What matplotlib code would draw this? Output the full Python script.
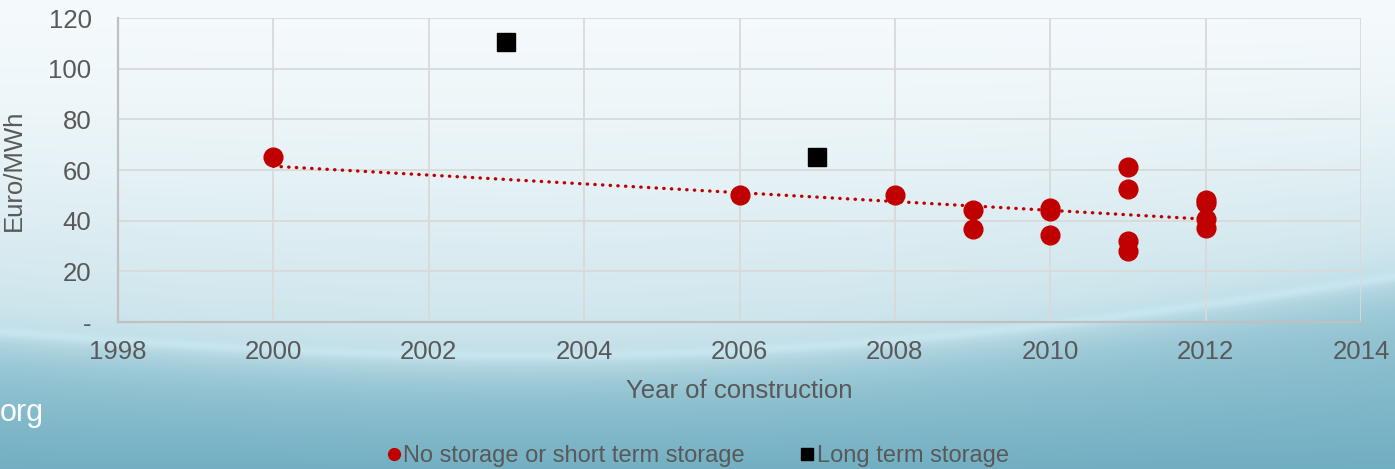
import numpy as np
import matplotlib
matplotlib.use("Agg")
import matplotlib.pyplot as plt
from matplotlib.lines import Line2D

plt.rcParams['font.family'] = ['Liberation Sans', 'DejaVu Sans']

# ---- data ----
short_years = [2000, 2006, 2008, 2009, 2009, 2010, 2010, 2010, 2011, 2011, 2011, 2011, 2012, 2012, 2012, 2012]
short_values = [65, 50, 50, 44.2, 36.7, 45, 44, 34.2, 61.1, 52.5, 32, 28.2, 48.2, 47, 40.5, 37]
long_years = [2003, 2007]
long_values = [110.5, 65.1]
x_ticks = [1998, 2000, 2002, 2004, 2006, 2008, 2010, 2012, 2014]
y_ticks = [0, 20, 40, 60, 80, 100, 120]
y_tick_labels = ['-', '20', '40', '60', '80', '100', '120']

RED = '#c00000'
TXT = '#595959'

W, H = 1395, 469
fig = plt.figure(figsize=(W / 100, H / 100), dpi=100)

# ---- decorative background gradient ----
bg = fig.add_axes([0, 0, 1, 1], zorder=0)
xx, yy = np.meshgrid(np.arange(W), np.arange(H), indexing='xy')
wave = 325 + 60 * np.sin(np.pi * (xx + 100) / 1600) - 0.04 * xx
top_c = np.array([0xf5, 0xfa, 0xfc]) / 255
mid_c = np.array([0xc8, 0xe2, 0xea]) / 255
bot_c = np.array([0x6c, 0xab, 0xbf]) / 255
t_up = np.clip(yy / wave, 0, 1) ** 1.5
img_up = top_c * (1 - t_up[..., None]) + mid_c * t_up[..., None]
t_lo = np.clip((yy - wave) / np.maximum(H + 20 - wave, 1), 0, 1) ** 0.7
low_start = np.array([0xac, 0xd3, 0xde]) / 255
img_lo = low_start * (1 - t_lo[..., None]) + bot_c * t_lo[..., None]
blend = 1 / (1 + np.exp(-(yy - wave) / 10.0))
img = img_up * (1 - blend[..., None]) + img_lo * blend[..., None]
streak = np.exp(-((yy - wave + 5) / 5.0) ** 2) * 0.035
img = np.clip(img + streak[..., None], 0, 1)
bg.imshow(img, aspect='auto', extent=[0, 1, 0, 1], origin='upper')
bg.set_axis_off()

# ---- main axes ----
L, R, T, B = 118, 1361, 18, 322
ax = fig.add_axes([L / W, 1 - B / H, (R - L) / W, (B - T) / H], zorder=1)
ax.patch.set_alpha(0)
ax.set_xlim(1998, 2014)
ax.set_ylim(0, 120)
ax.set_xticks(x_ticks)
ax.set_yticks(y_ticks)
ax.set_yticklabels(y_tick_labels)
ax.grid(True, color='#d9d9d9', linewidth=1.3, zorder=0)
ax.set_axisbelow(True)
for s in ['top', 'right']:
    ax.spines[s].set_visible(False)
for s in ['left', 'bottom']:
    ax.spines[s].set_color('#c0c0c0')
    ax.spines[s].set_linewidth(1.6)
ax.tick_params(length=0, labelsize=18.5, labelcolor=TXT)
ax.tick_params(axis='x', pad=13)
ax.tick_params(axis='y', pad=19)
ax.set_ylabel('Euro/MWh', fontsize=18.5, color=TXT, labelpad=16)
ax.set_xlabel('Year of construction', fontsize=18.5, color=TXT, labelpad=11)

# trendline (linear fit of the red series)
coef = np.polyfit(short_years, short_values, 1)
tx = np.array([min(short_years), max(short_years)])
ax.plot(tx, np.polyval(coef, tx), color=RED, linewidth=2.4,
        linestyle=(0, (0.1, 2.2)), dash_capstyle='round', zorder=3)

ax.plot(short_years, short_values, 'o', color=RED, markersize=13.5, zorder=4, clip_on=False)
ax.plot(long_years, long_values, 's', color='black', markersize=12.5, zorder=4, clip_on=False)

# legend
handles = [Line2D([], [], marker='o', color=RED, linestyle='none', markersize=8.5),
           Line2D([], [], marker='s', color='black', linestyle='none', markersize=8.5)]
leg = fig.legend(handles, ['No storage or short term storage', 'Long term storage'],
                 loc='center', bbox_to_anchor=(697 / W, 1 - 456 / H), ncol=2,
                 frameon=False, fontsize=17, handletextpad=0.05, columnspacing=2.3,
                 handlelength=0.7, labelcolor=TXT)

fig.text(0, 1 - 413 / H, 'org', color='white', fontsize=22, ha='left', va='center')

fig.savefig('out.png', dpi=100)
